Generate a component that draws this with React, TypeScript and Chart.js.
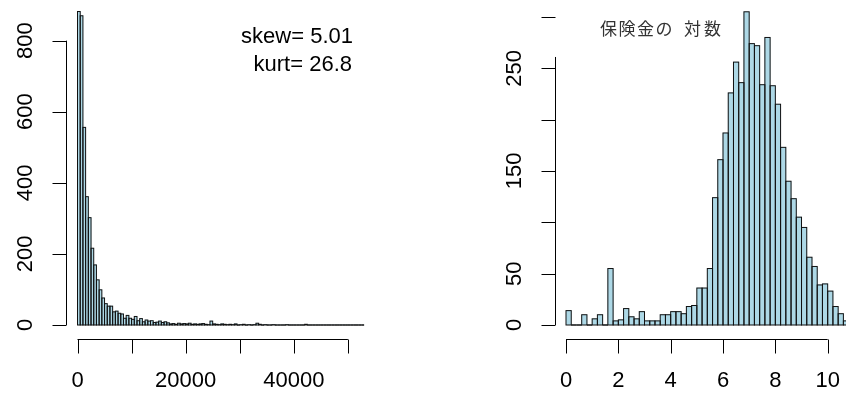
import React, { useEffect, useRef } from "react";
import { Chart, registerables } from "chart.js";

Chart.register(...registerables);

// ---- data: left histogram (claim amounts, bins of 500) ----
const claimBinWidth = 500;
const claimCounts = [
  882, 870, 556, 361, 302, 216, 169, 127, 99, 76,
  60, 53, 53, 37, 39, 33, 31, 19, 27, 19,
  16, 24, 12, 18, 9, 14, 11, 12, 7, 8,
  11, 7, 9, 6, 3, 4, 2, 5, 3, 4,
  3, 5, 2, 3, 2, 3, 4, 2, 1, 11,
  3, 2, 1, 3, 2, 1, 2, 1, 3, 0,
  1, 2, 0, 1, 0, 1, 5, 2, 0, 1,
  0, 0, 1, 0, 0, 0, 0, 1, 0, 0,
  0, 0, 0, 0, 2, 0, 0, 0, 0, 0,
  0, 0, 0, 0, 0, 0, 0, 0, 0, 0,
  0, 0, 0, 0, 0, 0,
];
const claimXTicks = [0, 10000, 20000, 30000, 40000, 50000];
const claimXLabels = ["0", "", "20000", "", "40000", ""];
const claimYTicks = [0, 200, 400, 600, 800];
const claimYLabels = ["0", "200", "400", "600", "800"];
const statLines = ["skew= 5.01", "kurt= 26.8"];

// ---- data: right histogram (log of claim amounts, bins of 0.2) ----
const logBinWidth = 0.2;
const logCounts = [
  14, 0, 0, 10, 0, 6, 10, 0, 55, 4,
  5, 16, 8, 6, 13, 4, 4, 4, 10, 10,
  13, 13, 11, 18, 19, 36, 36, 55, 124, 161,
  187, 226, 256, 236, 305, 274, 272, 234, 280, 233,
  215, 173, 140, 123, 105, 95, 66, 57, 39, 40,
  33, 18, 11, 4,
];
const logXTicks = [0, 2, 4, 6, 8, 10];
const logXLabels = ["0", "2", "4", "6", "8", "10"];
const logYTicks = [0, 50, 100, 150, 200, 250, 300];
const logYLabels = ["0", "50", "", "150", "", "250", ""];
const logTitleParts = ["保険金の", "対数"];

const FONT = "'Liberation Sans', Arial, sans-serif";

const outlinePlugin = {
  id: "rOutline",
  afterDatasetsDraw(chart: any) {
    const ctx = chart.ctx;
    const meta = chart.getDatasetMeta(0);
    const a = chart.chartArea;
    ctx.save();
    ctx.beginPath();
    ctx.rect(a.left - 1, a.top - 1, a.right - a.left + 2, a.bottom - a.top + 2);
    ctx.clip();
    ctx.strokeStyle = "#111";
    ctx.lineWidth = 1;
    meta.data.forEach((el: any) => {
      const { x, y, base, width } = el.getProps(["x", "y", "base", "width"], true);
      ctx.strokeRect(x - width / 2, Math.min(y, base), width, Math.abs(base - y));
    });
    ctx.restore();
  },
};

function makeAxes(o: {
  xTicks: number[];
  xLabels: string[];
  yTicks: number[];
  yLabels: string[];
  yLineTop?: number;
}) {
  return {
    id: "rAxes",
    afterDraw(chart: any) {
      const ctx = chart.ctx;
      const xs = chart.scales.x;
      const ys = chart.scales.y;
      const y0 = ys.getPixelForValue(0);
      const axisY = Math.round(y0 + 14) + 0.5;
      const axisX = Math.round(chart.chartArea.left - 11.5) + 0.5;
      ctx.save();
      ctx.strokeStyle = "#000";
      ctx.lineWidth = 1;
      ctx.beginPath();
      ctx.moveTo(xs.getPixelForValue(o.xTicks[0]), axisY);
      ctx.lineTo(xs.getPixelForValue(o.xTicks[o.xTicks.length - 1]), axisY);
      o.xTicks.forEach((t) => {
        const px = Math.round(xs.getPixelForValue(t)) + 0.5;
        ctx.moveTo(px, axisY);
        ctx.lineTo(px, axisY + 14);
      });
      const topVal = o.yLineTop ?? o.yTicks[o.yTicks.length - 1];
      ctx.moveTo(axisX, ys.getPixelForValue(topVal));
      ctx.lineTo(axisX, ys.getPixelForValue(o.yTicks[0]));
      o.yTicks.forEach((t) => {
        const py = Math.round(ys.getPixelForValue(t)) + 0.5;
        ctx.moveTo(axisX, py);
        ctx.lineTo(axisX - 14, py);
      });
      ctx.stroke();

      ctx.fillStyle = "#000";
      ctx.font = `22px ${FONT}`;
      ctx.textAlign = "center";
      ctx.textBaseline = "middle";
      o.xTicks.forEach((t, i) => {
        const l = o.xLabels[i];
        if (l) ctx.fillText(l, xs.getPixelForValue(t), axisY + 41);
      });
      o.yTicks.forEach((t, i) => {
        const l = o.yLabels[i];
        if (!l) return;
        ctx.save();
        ctx.translate(axisX - 41, ys.getPixelForValue(t));
        ctx.rotate(-Math.PI / 2);
        ctx.fillText(l, 0, 0);
        ctx.restore();
      });
      ctx.restore();
    },
  };
}

const statsPlugin = {
  id: "stats",
  afterDraw(chart: any) {
    const ctx = chart.ctx;
    ctx.save();
    ctx.fillStyle = "#000";
    ctx.font = `22px ${FONT}`;
    ctx.textAlign = "right";
    ctx.textBaseline = "alphabetic";
    ctx.fillText(statLines[0], 353, 43);
    ctx.fillText(statLines[1], 352, 71);
    ctx.restore();
  },
};

const titlePlugin = {
  id: "logTitle",
  afterDraw(chart: any) {
    const ctx = chart.ctx;
    ctx.save();
    ctx.fillStyle = "#333";
    ctx.font = `17px 'Noto Sans CJK JP', sans-serif`;
    ctx.textAlign = "left";
    ctx.textBaseline = "middle";
    (ctx as any).letterSpacing = "1.5px";
    ctx.fillText(logTitleParts[0], 177, 29);
    (ctx as any).letterSpacing = "3px";
    ctx.fillText(logTitleParts[1], 261, 29);
    ctx.restore();
  },
};

function histOptions(pad: any, xMax: number, yMax: number) {
  return {
    animation: false as const,
    responsive: false,
    maintainAspectRatio: false,
    events: [] as any[],
    layout: { padding: pad },
    plugins: {
      legend: { display: false },
      tooltip: { enabled: false },
      title: { display: false },
    },
    scales: {
      x: { type: "linear" as const, min: 0, max: xMax, display: false, offset: false },
      y: { type: "linear" as const, min: 0, max: yMax, display: false },
    },
  };
}

export default function App() {
  const leftRef = useRef<HTMLCanvasElement>(null);
  const rightRef = useRef<HTMLCanvasElement>(null);

  useEffect(() => {
    const left = new Chart(leftRef.current as HTMLCanvasElement, {
      type: "bar",
      data: {
        datasets: [
          {
            data: claimCounts.map((c, i) => ({ x: (i + 0.5) * claimBinWidth, y: c })),
            backgroundColor: "#ADD8E6",
            borderWidth: 0,
            barPercentage: 1,
            categoryPercentage: 1,
          },
        ],
      },
      options: histOptions({ left: 77.5, right: 58.9, top: 5.1, bottom: 69 }, 53000, 900) as any,
      plugins: [
        outlinePlugin,
        makeAxes({ xTicks: claimXTicks, xLabels: claimXLabels, yTicks: claimYTicks, yLabels: claimYLabels }),
        statsPlugin,
      ],
    });

    const right = new Chart(rightRef.current as HTMLCanvasElement, {
      type: "bar",
      data: {
        datasets: [
          {
            data: logCounts.map((c, i) => ({ x: (i + 0.5) * logBinWidth, y: c })),
            backgroundColor: "#ADD8E6",
            borderWidth: 0,
            barPercentage: 1,
            categoryPercentage: 1,
          },
        ],
      },
      options: histOptions({ left: 143, right: 0, top: 0.5, bottom: 69 }, 10.7, 316) as any,
      plugins: [
        outlinePlugin,
        makeAxes({ xTicks: logXTicks, xLabels: logXLabels, yTicks: logYTicks, yLabels: logYLabels, yLineTop: 261 }),
        titlePlugin,
      ],
    });

    return () => {
      left.destroy();
      right.destroy();
    };
  }, []);

  return (
    <div
      style={{
        position: "absolute",
        left: 0,
        top: 0,
        width: 846,
        height: 394,
        background: "#fff",
        overflow: "hidden",
      }}
    >
      <canvas
        ref={leftRef}
        width={423}
        height={394}
        style={{ position: "absolute", left: 0, top: 0, width: 423, height: 394 }}
      />
      <canvas
        ref={rightRef}
        width={423}
        height={394}
        style={{ position: "absolute", left: 423, top: 0, width: 423, height: 394 }}
      />
    </div>
  );
}
